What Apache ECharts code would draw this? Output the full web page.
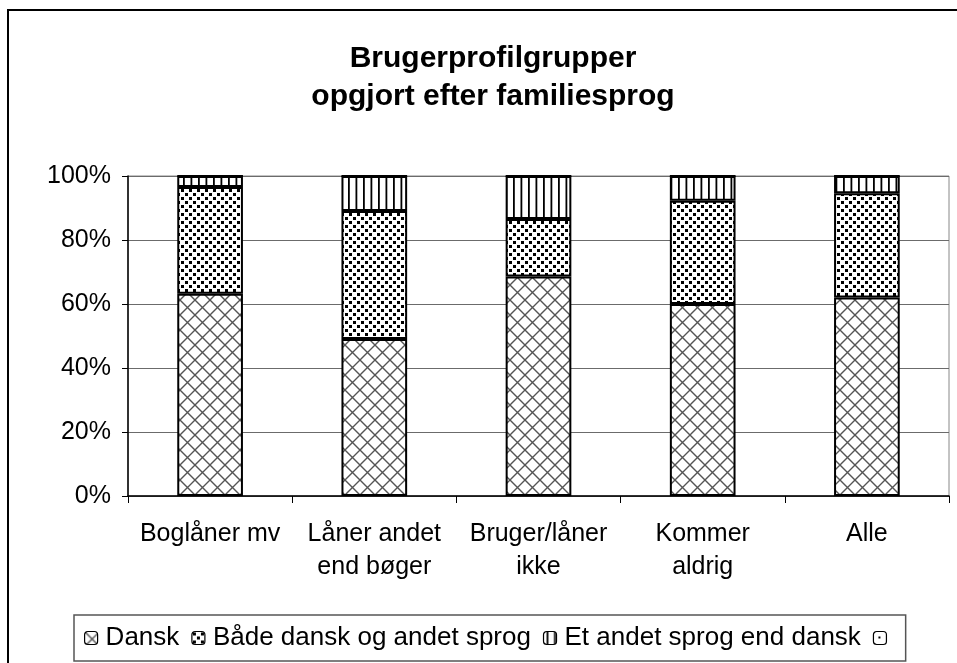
<!DOCTYPE html>
<html>
<head>
<meta charset="utf-8">
<script src="https://cdn.jsdelivr.net/npm/echarts@6/dist/echarts.min.js"></script>
<style>
html,body{margin:0;padding:0;background:#fff;}
#chart{width:957px;height:663px;}
</style>
</head>
<body>
<div id="chart"></div>
<script>
// ---- data ----
var categories = ['Boglåner mv', 'Låner andet\nend bøger', 'Bruger/låner\nikke', 'Kommer\naldrig', 'Alle'];
var seriesNames = ['Dansk', 'Både dansk og andet sprog', 'Et andet sprog end dansk', ' '];
var dansk = [63.2, 49.1, 68.6, 60.0, 62.0];
var baade = [33.4, 40.0, 18.0, 32.3, 32.6];
var andet = [3.4, 10.9, 13.4, 7.7, 5.4];
var uoplyst = [0, 0, 0, 0, 0];
var yTicks = [0, 20, 40, 60, 80, 100];

// ---- patterns ----
function makeTile(w, h, draw) {
  var c = document.createElement('canvas');
  c.width = w; c.height = h;
  var ctx = c.getContext('2d');
  ctx.fillStyle = '#fff';
  ctx.fillRect(0, 0, w, h);
  draw(ctx);
  return { image: c, repeat: 'repeat' };
}
var crossPat = makeTile(15, 15, function (ctx) {
  ctx.strokeStyle = '#555';
  ctx.lineWidth = 1.4;
  ctx.beginPath();
  ctx.moveTo(-1, -1); ctx.lineTo(16, 16);
  ctx.moveTo(16, -1); ctx.lineTo(-1, 16);
  ctx.stroke();
});
var dotPat = makeTile(8, 8, function (ctx) {
  ctx.fillStyle = '#000';
  ctx.fillRect(1, 1, 3, 3);
  ctx.fillRect(5, 5, 3, 3);
});
var stripePat = makeTile(15, 4, function (ctx) {
  ctx.fillStyle = '#000';
  ctx.fillRect(3, 0, 1.8, 4);
  ctx.fillRect(10.5, 0, 1.8, 4);
});
var emptyPat = makeTile(12, 12, function (ctx) {
  ctx.fillStyle = '#000';
  ctx.fillRect(5, 5, 2, 2);
});
var patterns = [crossPat, dotPat, stripePat, emptyPat];
var values = [dansk, baade, andet, uoplyst];

var FONT = 'Liberation Sans, Arial, sans-serif';

var series = seriesNames.map(function (n, i) {
  return {
    name: n,
    type: 'bar',
    stack: 'total',
    barCategoryGap: '60%',
    data: values[i],
    itemStyle: { color: patterns[i], borderColor: '#000', borderWidth: 2 },
    emphasis: { disabled: true },
    silent: true
  };
});

var chart = echarts.init(document.getElementById('chart'), null, { renderer: 'canvas' });
chart.setOption({
  animation: false,
  backgroundColor: '#fff',
  graphic: [
    { type: 'rect', shape: { x: 8, y: 10, width: 1000, height: 700 },
      style: { fill: 'none', stroke: '#000', lineWidth: 2 }, silent: true },
    { type: 'text', x: 493, y: 40,
      style: { text: 'Brugerprofilgrupper\nopgjort efter familiesprog', font: 'bold 30px ' + FONT,
        fill: '#000', align: 'center', verticalAlign: 'top', lineHeight: 38 } }
  ],
  grid: { left: 128, right: 8, top: 176, bottom: 167, show: true, borderColor: '#888', borderWidth: 1 },
  legend: {
    data: seriesNames,
    left: 74, top: 615,
    padding: [9, 4, 9, 10],
    itemGap: 12,
    itemWidth: 13, itemHeight: 13,
    borderColor: '#555', borderWidth: 1.5,
    selectedMode: false,
    itemStyle: { borderWidth: 1.2 },
    textStyle: { fontSize: 26, fontFamily: FONT, color: '#000', lineHeight: 28, padding: [0, 0, 0, 3] }
  },
  xAxis: {
    type: 'category',
    data: categories,
    axisLine: { lineStyle: { color: '#000', width: 1.5 } },
    axisTick: { show: true, length: 7, lineStyle: { color: '#000' } },
    axisLabel: { fontSize: 25, fontFamily: FONT, color: '#000', margin: 22, lineHeight: 33, interval: 0 }
  },
  yAxis: {
    type: 'value', min: 0, max: 100, interval: 20,
    axisLine: { show: true, lineStyle: { color: '#000', width: 1.5 } },
    axisTick: { show: true, length: 6, lineStyle: { color: '#000' } },
    splitLine: { lineStyle: { color: '#6b6b6b', width: 1 } },
    axisLabel: { fontSize: 25, fontFamily: FONT, color: '#000', margin: 17,
      formatter: function (v) { return yTicks.indexOf(v) >= 0 ? v + '%' : ''; } }
  },
  series: series
});
</script>
</body>
</html>
